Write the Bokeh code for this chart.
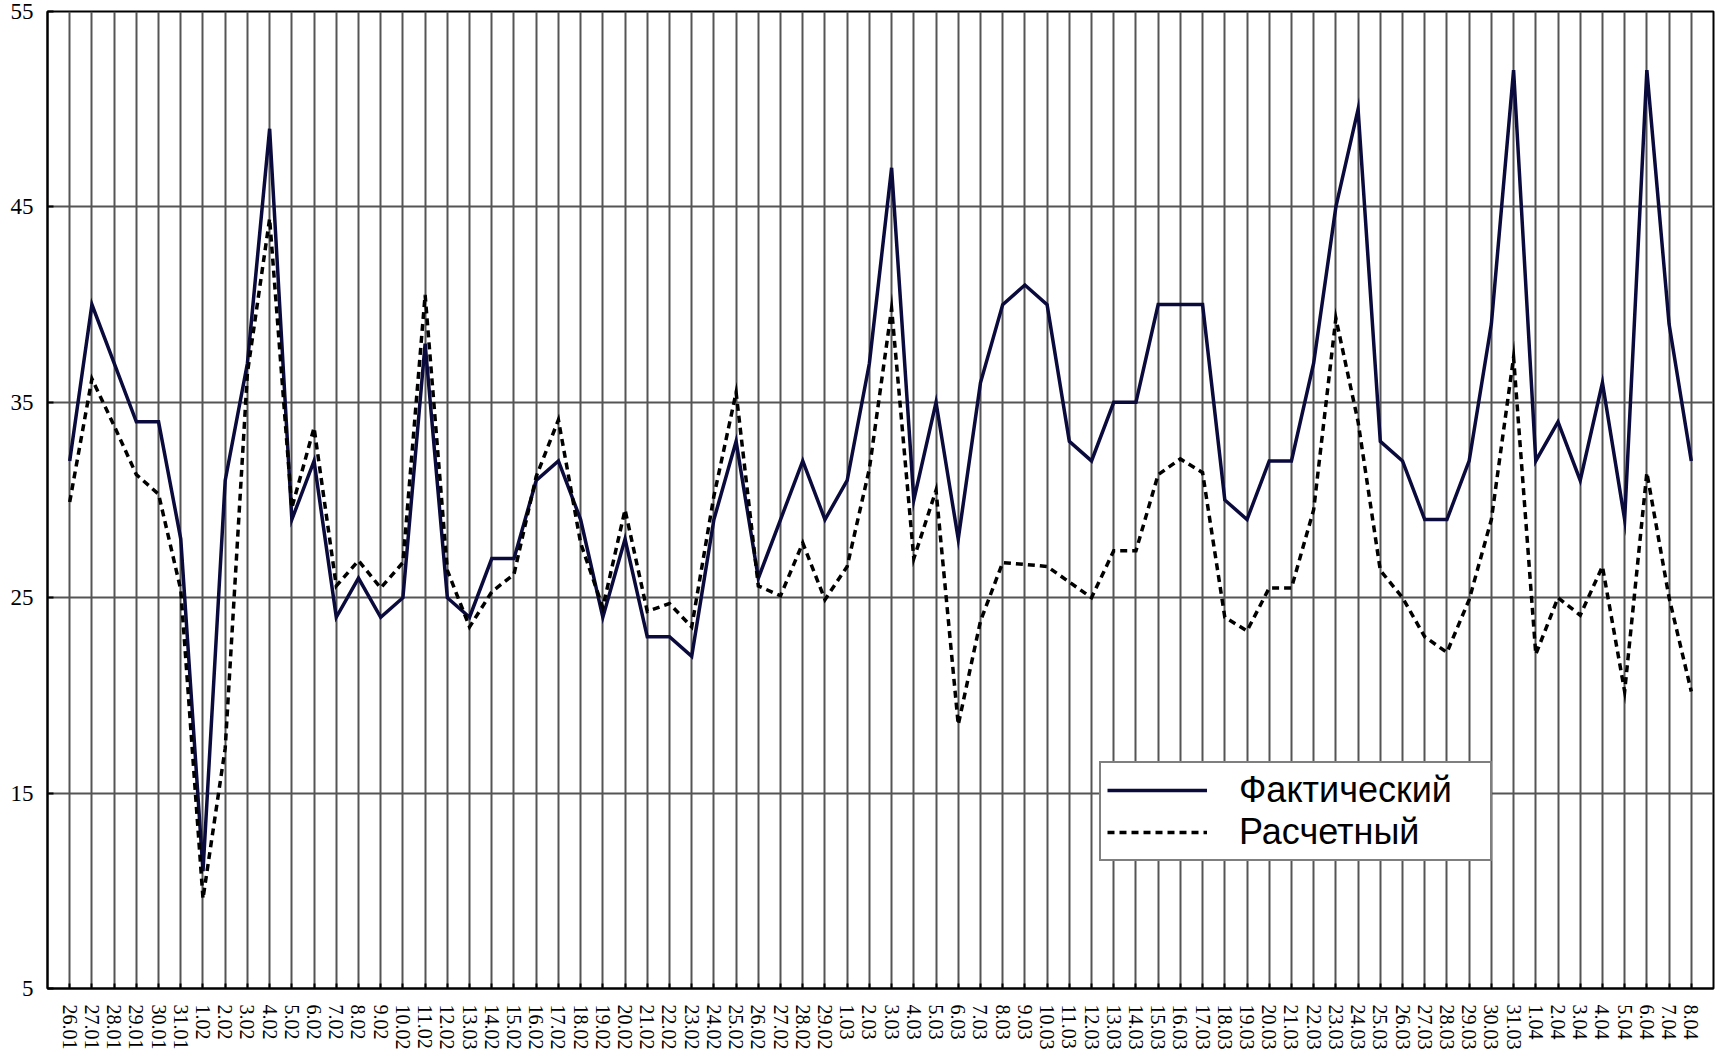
from bokeh.plotting import figure
from bokeh.models import (ColumnDataSource, Range1d, FixedTicker,
                          Legend, LegendItem)
from bokeh.embed import file_html
from bokeh.resources import INLINE

# ---- data ----
dates = ["26.01", "27.01", "28.01", "29.01", "30.01", "31.01",
         "1.02", "2.02", "3.02", "4.02", "5.02", "6.02", "7.02", "8.02", "9.02", "10.02",
         "11.02", "12.02", "13.03", "14.02", "15.02", "16.02", "17.02", "18.02", "19.02",
         "20.02", "21.02", "22.02", "23.02", "24.02", "25.02", "26.02", "27.02", "28.02", "29.02",
         "1.03", "2.03", "3.03", "4.03", "5.03", "6.03", "7.03", "8.03", "9.03", "10.03",
         "11.03", "12.03", "13.03", "14.03", "15.03", "16.03", "17.03", "18.03", "19.03",
         "20.03", "21.03", "22.03", "23.03", "24.03", "25.03", "26.03", "27.03", "28.03",
         "29.03", "30.03", "31.03",
         "1.04", "2.04", "3.04", "4.04", "5.04", "6.04", "7.04", "8.04"]

actual = [32, 40, 37, 34, 34, 28,
          11, 31, 37, 49, 29, 32, 24, 26, 24, 25,
          38, 25, 24, 27, 27, 31, 32, 29, 24,
          28, 23, 23, 22, 29, 33, 26, 29, 32, 29,
          31, 37, 47, 30, 35, 28, 36, 40, 41, 40,
          33, 32, 35, 35, 40, 40, 40, 30, 29,
          32, 32, 37, 45, 50, 33, 32, 29, 29,
          32, 39, 52,
          32, 34, 31, 36, 29, 52, 39, 32]

calculated = [29.9, 36.2, 33.8, 31.3, 30.3, 25.4,
              9.6, 17.3, 36.5, 44.4, 29.6, 33.7, 25.6, 26.9, 25.5, 26.8,
              40.5, 26.4, 23.5, 25.3, 26.2, 31.2, 34.1, 27.8, 24.5,
              29.5, 24.3, 24.7, 23.5, 30.2, 35.5, 25.6, 25.1, 27.8, 24.9,
              26.6, 31.6, 39.8, 27.0, 30.5, 18.5, 23.8, 26.8, 26.7, 26.6,
              25.8, 25.0, 27.4, 27.4, 31.3, 32.1, 31.4, 24.0, 23.3,
              25.5, 25.5, 29.5, 39.3, 34.0, 26.4, 25.0, 23.0, 22.2,
              24.9, 29.0, 37.3,
              22.1, 25.0, 24.1, 26.6, 20.2, 31.4, 25.0, 20.2]

y_ticks = [5, 15, 25, 35, 45, 55]
series_names = ["Фактический", "Расчетный"]

positions = list(range(1, len(dates) + 1))
source = ColumnDataSource(dict(x=positions, actual=actual, calculated=calculated))

p = figure(width=1716, height=1052,
           x_range=Range1d(0, len(dates) + 1), y_range=Range1d(5, 55),
           output_backend="svg", toolbar_location=None,
           min_border_left=47, min_border_top=11, min_border_right=3,
           min_border_bottom=64,
           background_fill_color="white", border_fill_color="white")
p.outline_line_color = "black"
p.outline_line_width = 2

# axes
x_ticker = FixedTicker(ticks=positions)
y_ticker = FixedTicker(ticks=y_ticks)
p.xaxis.ticker = x_ticker
p.xaxis.major_label_overrides = {i: d for i, d in zip(positions, dates)}
p.xaxis.major_label_orientation = "vertical"
p.xaxis.major_label_text_font = "Liberation Serif"
p.xaxis.major_label_text_font_size = "20px"
p.xaxis.major_label_text_color = "black"
p.xaxis.major_label_standoff = 16
p.xaxis.minor_tick_line_color = None
p.xaxis.major_tick_in = 5
p.xaxis.major_tick_out = 0
p.xaxis.axis_line_width = 2
p.xaxis.major_tick_line_width = 2

p.yaxis.ticker = y_ticker
p.yaxis.major_label_text_font = "Liberation Serif"
p.yaxis.major_label_text_font_size = "23px"
p.yaxis.major_label_text_color = "black"
p.yaxis.major_label_standoff = 14
p.yaxis.minor_tick_line_color = None
p.yaxis.major_tick_in = 6
p.yaxis.major_tick_out = 0
p.yaxis.axis_line_width = 2
p.yaxis.major_tick_line_width = 2

p.xgrid.ticker = x_ticker
p.ygrid.ticker = y_ticker
p.xgrid.grid_line_color = "#555555"
p.ygrid.grid_line_color = "#555555"
p.xgrid.grid_line_width = 2
p.ygrid.grid_line_width = 2
p.xgrid.grid_line_alpha = 1
p.ygrid.grid_line_alpha = 1

r1 = p.line("x", "actual", source=source, line_color="#0a0a3c", line_width=3.5,
            line_join="miter")
r2 = p.line("x", "calculated", source=source, line_color="black", line_width=3.5,
            line_dash="7 5", line_join="miter")

legend = Legend(items=[LegendItem(label=series_names[0], renderers=[r1]),
                       LegendItem(label=series_names[1], renderers=[r2])],
                location=(1052, 127))
legend.border_line_color = "black"
legend.border_line_width = 2
legend.background_fill_color = "white"
legend.background_fill_alpha = 1
legend.label_text_font = "Liberation Sans"
legend.label_text_font_size = "36px"
legend.label_text_color = "black"
legend.glyph_width = 100
legend.glyph_height = 30
legend.label_height = 30
legend.label_width = 245
legend.label_standoff = 32
legend.padding = 6
legend.spacing = 0
legend.margin = 0
p.add_layout(legend)

open("out.html", "w").write(file_html(p, INLINE))
